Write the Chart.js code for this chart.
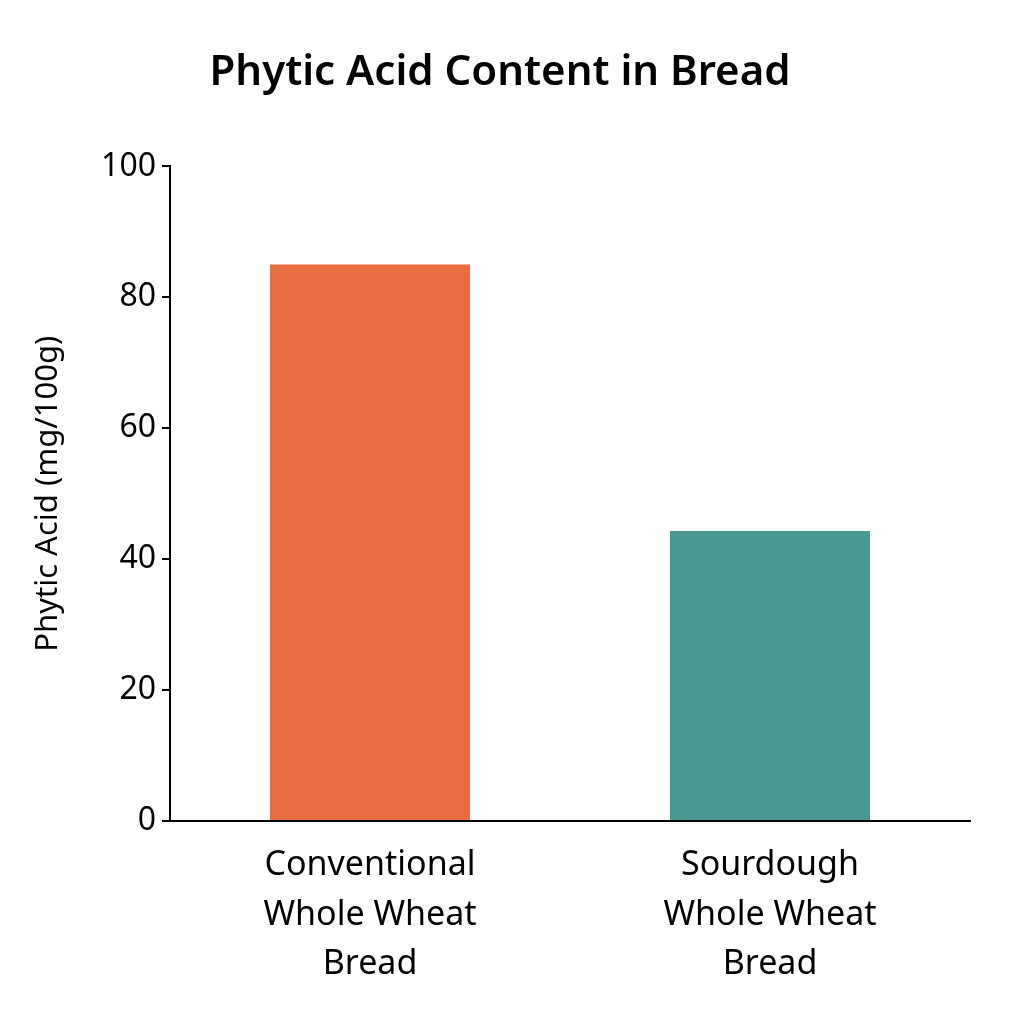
<!DOCTYPE html>
<html>
<head>
<meta charset="utf-8">
<script src="https://cdn.jsdelivr.net/npm/chart.js@4/dist/chart.umd.min.js"></script>
<style>
  html, body { margin: 0; padding: 0; background: #fff; }
  #wrap { width: 1024px; height: 1024px; }
</style>
</head>
<body>
<div id="wrap"><canvas id="chart"></canvas></div>
<script>
const categories = [
  ['Conventional', 'Whole Wheat', 'Bread'],
  ['Sourdough', 'Whole Wheat', 'Bread']
];
const phyticValues = [85, 44.3];
const barColors = ['#E86D42', '#479A94'];
const yTicks = [0, 20, 40, 60, 80, 100];

const font = '"Noto Sans", "Open Sans", sans-serif';

new Chart(document.getElementById('chart').getContext('2d'), {
  type: 'bar',
  data: {
    labels: categories,
    datasets: [{
      data: phyticValues,
      backgroundColor: barColors,
      borderWidth: 0,
      barPercentage: 0.5,
      categoryPercentage: 1
    }]
  },
  options: {
    responsive: true,
    maintainAspectRatio: false,
    animation: false,
    devicePixelRatio: 1,
    layout: { padding: { left: 30, right: 54, top: 0, bottom: 20 } },
    plugins: {
      legend: { display: false },
      tooltip: { enabled: false },
      title: {
        display: true,
        text: 'Phytic Acid Content in Bread',
        color: '#000',
        font: { family: font, size: 42, weight: '600' },
        padding: { top: 48, bottom: 68 }
      }
    },
    scales: {
      x: {
        grid: { display: false, drawTicks: false },
        border: { color: '#000', width: 2 },
        ticks: { color: '#000', font: { family: font, size: 34, lineHeight: 1.45 }, padding: 20, maxRotation: 0 },
        afterFit: (s) => { s.height = 1024 - 821 - 20; }
      },
      y: {
        min: 0,
        max: 100,
        afterBuildTicks: (s) => { s.ticks = yTicks.map(v => ({ value: v })); },
        grid: { drawOnChartArea: false, drawTicks: true, tickLength: 8, color: '#000', lineWidth: 2 },
        border: { color: '#000', width: 2 },
        ticks: { color: '#000', font: { family: font, size: 32 }, padding: 6 },
        title: {
          display: true,
          text: 'Phytic Acid (mg/100g)',
          color: '#000',
          font: { family: font, size: 31 },
          padding: { top: 0, bottom: 8 }
        },
        afterFit: (s) => { s.width = 140; }
      }
    }
  }
});
</script>
</body>
</html>
